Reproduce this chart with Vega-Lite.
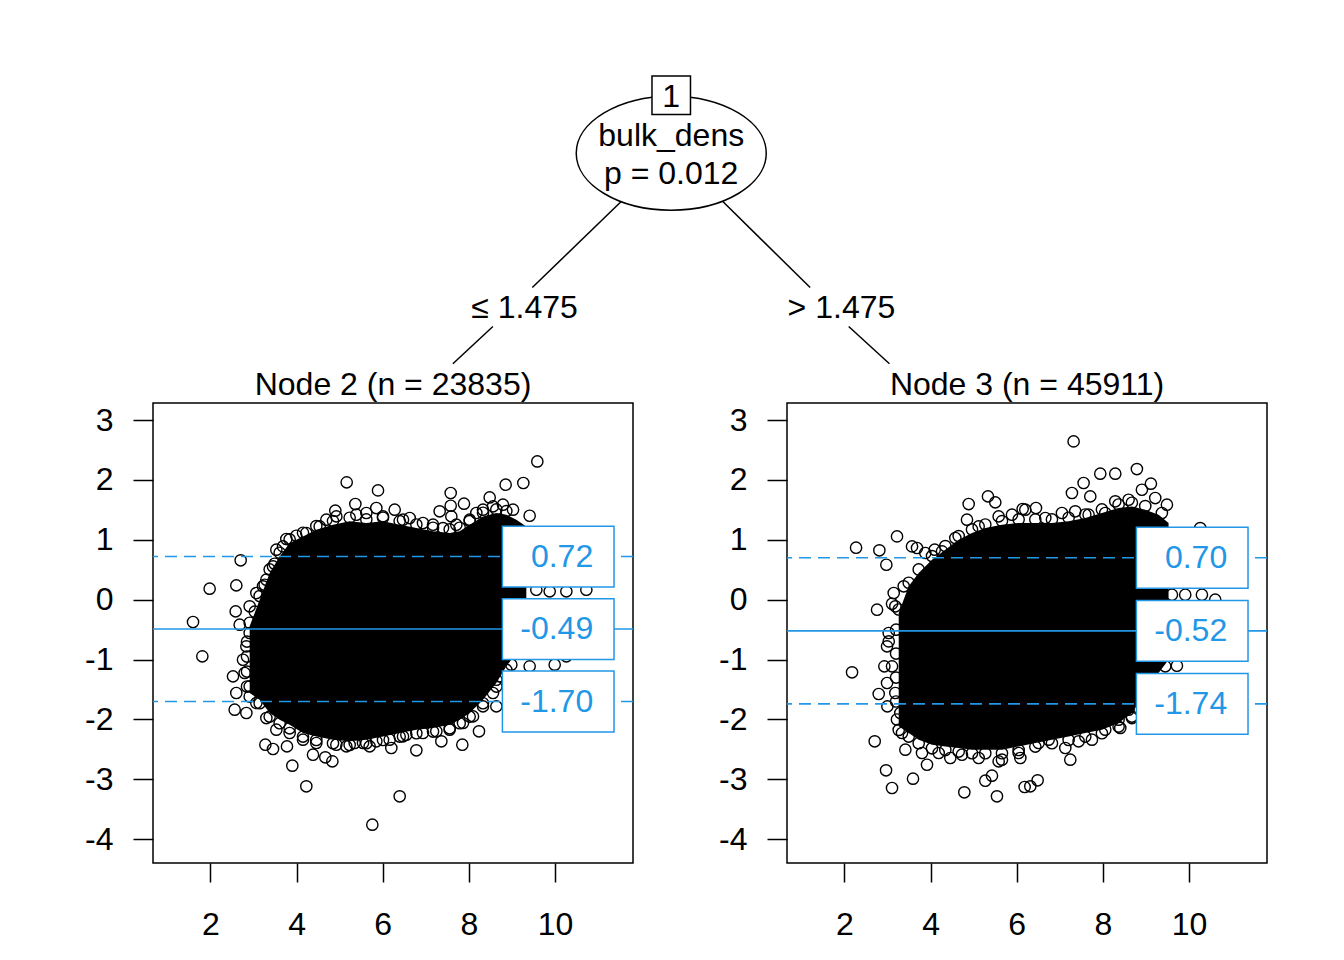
{
  "$schema": "https://vega.github.io/schema/vega-lite/v6.json",
  "description": "Model-based tree: bulk_dens split with Bland-Altman style panels",
  "padding": {"left": 83, "top": 0, "right": 0, "bottom": 0},
  "config": {
    "font": "Liberation Sans",
    "view": {"stroke": "black", "strokeWidth": 1.5},
    "axis": {
      "domain": false, "grid": false, "title": null,
      "tickColor": "black", "tickWidth": 1.5,
      "labelColor": "black", "labelFontSize": 32, "labelFont": "Liberation Sans",
      "labelFlush": false, "labelOverlap": false,
      "labelExpr": "'' + datum.value"
    },
    "axisX": {"tickSize": 19, "labelPadding": 27},
    "axisY": {"tickSize": 20, "labelPadding": 20}
  },
  "datasets": {
    "n2_area": [
      {"x": 2.912, "hi": -0.445, "lo": -1.558},
      {"x": 3.144, "hi": 0.0, "lo": -1.669},
      {"x": 3.376, "hi": 0.445, "lo": -1.892},
      {"x": 3.608, "hi": 0.723, "lo": -2.003},
      {"x": 3.840, "hi": 0.946, "lo": -2.087},
      {"x": 4.150, "hi": 1.057, "lo": -2.226},
      {"x": 4.459, "hi": 1.169, "lo": -2.282},
      {"x": 4.846, "hi": 1.252, "lo": -2.337},
      {"x": 5.233, "hi": 1.308, "lo": -2.365},
      {"x": 5.620, "hi": 1.280, "lo": -2.337},
      {"x": 6.007, "hi": 1.308, "lo": -2.282},
      {"x": 6.394, "hi": 1.252, "lo": -2.226},
      {"x": 6.781, "hi": 1.196, "lo": -2.170},
      {"x": 7.168, "hi": 1.141, "lo": -2.142},
      {"x": 7.555, "hi": 1.113, "lo": -2.087},
      {"x": 7.787, "hi": 1.141, "lo": -2.003},
      {"x": 8.019, "hi": 1.252, "lo": -1.892},
      {"x": 8.328, "hi": 1.391, "lo": -1.669},
      {"x": 8.638, "hi": 1.447, "lo": -1.391},
      {"x": 8.870, "hi": 1.419, "lo": -1.113},
      {"x": 9.102, "hi": 1.336, "lo": -0.890},
      {"x": 9.334, "hi": 1.224, "lo": -0.556}
    ],
    "n2_pts": [
      {"x": 9.589, "y": 2.309}, {"x": 8.854, "y": 1.920}, {"x": 9.264, "y": 1.948},
      {"x": 5.164, "y": 1.959}, {"x": 5.891, "y": 1.825}, {"x": 7.578, "y": 1.781},
      {"x": 7.887, "y": 1.603}, {"x": 8.483, "y": 1.708}, {"x": 7.578, "y": 1.569},
      {"x": 5.365, "y": 1.597}, {"x": 4.900, "y": 1.486}, {"x": 5.852, "y": 1.530},
      {"x": 6.278, "y": 1.503}, {"x": 7.322, "y": 1.475}, {"x": 7.593, "y": 1.391},
      {"x": 9.411, "y": 1.402}, {"x": 3.995, "y": 1.068}, {"x": 3.763, "y": 1.013},
      {"x": 2.703, "y": 0.657}, {"x": 1.983, "y": 0.184}, {"x": 2.602, "y": 0.239},
      {"x": 1.597, "y": -0.373}, {"x": 2.587, "y": -0.195}, {"x": 1.813, "y": -0.946},
      {"x": 2.680, "y": -0.417}, {"x": 2.912, "y": -0.111}, {"x": 2.525, "y": -1.280},
      {"x": 2.602, "y": -1.558}, {"x": 2.564, "y": -1.836}, {"x": 2.835, "y": -1.892},
      {"x": 3.299, "y": -1.976}, {"x": 3.276, "y": -2.421}, {"x": 3.454, "y": -2.493},
      {"x": 3.902, "y": -2.771}, {"x": 4.227, "y": -3.116}, {"x": 4.831, "y": -2.699},
      {"x": 4.382, "y": -2.588}, {"x": 4.668, "y": -2.632}, {"x": 5.759, "y": -3.756},
      {"x": 6.394, "y": -3.283}, {"x": 6.200, "y": -2.476}, {"x": 6.781, "y": -2.515},
      {"x": 7.361, "y": -2.365}, {"x": 7.848, "y": -2.421}, {"x": 8.235, "y": -2.198},
      {"x": 8.638, "y": -1.781}, {"x": 8.638, "y": -1.336}, {"x": 8.986, "y": -1.085},
      {"x": 9.411, "y": -1.113}, {"x": 9.992, "y": -1.085}, {"x": 10.263, "y": -0.946},
      {"x": 10.727, "y": 0.167}, {"x": 10.263, "y": 0.139}, {"x": 9.876, "y": 0.139},
      {"x": 9.566, "y": 0.167}, {"x": 5.697, "y": -2.449}, {"x": 5.156, "y": -2.449},
      {"x": 5.349, "y": -2.393}, {"x": 3.778, "y": -2.449}, {"x": 6.549, "y": -2.254},
      {"x": 3.531, "y": 0.835}, {"x": 3.686, "y": 0.890}, {"x": 4.227, "y": 1.113},
      {"x": 4.537, "y": 1.224}, {"x": 4.692, "y": 1.336}, {"x": 4.924, "y": 1.391},
      {"x": 5.388, "y": 1.419}, {"x": 5.620, "y": 1.447}, {"x": 6.007, "y": 1.391},
      {"x": 6.471, "y": 1.336}, {"x": 6.626, "y": 1.363}, {"x": 6.935, "y": 1.280},
      {"x": 7.168, "y": 1.252}, {"x": 7.400, "y": 1.196}, {"x": 7.709, "y": 1.252},
      {"x": 8.019, "y": 1.336}, {"x": 8.173, "y": 1.447}, {"x": 8.328, "y": 1.503},
      {"x": 8.560, "y": 1.558}, {"x": 8.792, "y": 1.586}, {"x": 9.025, "y": 1.503},
      {"x": 3.067, "y": -1.725}, {"x": 3.531, "y": -2.170}, {"x": 3.840, "y": -2.226},
      {"x": 4.150, "y": -2.337}, {"x": 4.459, "y": -2.393}, {"x": 4.924, "y": -2.421},
      {"x": 5.543, "y": -2.393}, {"x": 5.852, "y": -2.365}, {"x": 6.162, "y": -2.337},
      {"x": 6.471, "y": -2.282}, {"x": 6.935, "y": -2.226}, {"x": 7.245, "y": -2.198},
      {"x": 7.554, "y": -2.170}, {"x": 7.864, "y": -2.059}, {"x": 8.096, "y": -1.948},
      {"x": 8.328, "y": -1.781}, {"x": 8.560, "y": -1.558}, {"x": 8.715, "y": -1.280},
      {"x": 2.912, "y": -0.556}, {"x": 2.835, "y": -0.779}, {"x": 2.757, "y": -1.002},
      {"x": 2.796, "y": -1.224}, {"x": 2.912, "y": -1.447}, {"x": 3.067, "y": 0.111},
      {"x": 3.221, "y": 0.223}, {"x": 3.299, "y": 0.334}, {"x": 3.454, "y": 0.556},
      {"x": 2.912, "y": -0.385}, {"x": 3.144, "y": 0.060}, {"x": 3.376, "y": 0.505},
      {"x": 3.608, "y": 0.783}, {"x": 3.840, "y": 1.006}, {"x": 4.150, "y": 1.117},
      {"x": 4.459, "y": 1.229}, {"x": 4.846, "y": 1.312}, {"x": 5.233, "y": 1.368},
      {"x": 5.620, "y": 1.340}, {"x": 6.007, "y": 1.368}, {"x": 6.394, "y": 1.312},
      {"x": 6.781, "y": 1.256}, {"x": 7.168, "y": 1.201}, {"x": 7.555, "y": 1.173},
      {"x": 7.787, "y": 1.201}, {"x": 8.019, "y": 1.312}, {"x": 8.328, "y": 1.451},
      {"x": 8.638, "y": 1.507}, {"x": 8.870, "y": 1.479},
      {"x": 2.912, "y": -1.618}, {"x": 3.144, "y": -1.729}, {"x": 3.376, "y": -1.952},
      {"x": 3.608, "y": -2.063}, {"x": 3.840, "y": -2.147}, {"x": 4.150, "y": -2.286},
      {"x": 4.459, "y": -2.342}, {"x": 4.846, "y": -2.397}, {"x": 5.233, "y": -2.425},
      {"x": 5.620, "y": -2.397}, {"x": 6.007, "y": -2.342}, {"x": 6.394, "y": -2.286},
      {"x": 6.781, "y": -2.230}, {"x": 7.168, "y": -2.202}, {"x": 7.555, "y": -2.147},
      {"x": 7.787, "y": -2.063}, {"x": 8.019, "y": -1.952}, {"x": 8.328, "y": -1.729},
      {"x": 8.638, "y": -1.451}, {"x": 8.870, "y": -1.173},
      {"x": 2.850, "y": -0.700}, {"x": 2.850, "y": -0.950}, {"x": 2.850, "y": -1.200},
      {"x": 2.850, "y": -1.450}, {"x": 3.030, "y": -0.200}, {"x": 3.260, "y": 0.250},
      {"x": 3.490, "y": 0.600}
    ],
    "n2_stats": [
      {"kind": "limit", "value": 0.72, "label": "0.72"},
      {"kind": "mean", "value": -0.49, "label": "-0.49"},
      {"kind": "limit", "value": -1.70, "label": "-1.70"}
    ],
    "n3_area": [
      {"x": 3.261, "hi": -0.223, "lo": -2.114},
      {"x": 3.493, "hi": 0.223, "lo": -2.226},
      {"x": 3.725, "hi": 0.445, "lo": -2.337},
      {"x": 4.034, "hi": 0.668, "lo": -2.421},
      {"x": 4.343, "hi": 0.835, "lo": -2.449},
      {"x": 4.653, "hi": 1.002, "lo": -2.476},
      {"x": 4.962, "hi": 1.113, "lo": -2.504},
      {"x": 5.271, "hi": 1.196, "lo": -2.504},
      {"x": 5.658, "hi": 1.252, "lo": -2.504},
      {"x": 6.045, "hi": 1.280, "lo": -2.449},
      {"x": 6.432, "hi": 1.280, "lo": -2.393},
      {"x": 6.818, "hi": 1.280, "lo": -2.337},
      {"x": 7.205, "hi": 1.308, "lo": -2.282},
      {"x": 7.592, "hi": 1.363, "lo": -2.226},
      {"x": 7.978, "hi": 1.447, "lo": -2.170},
      {"x": 8.365, "hi": 1.530, "lo": -2.059},
      {"x": 8.674, "hi": 1.558, "lo": -1.892},
      {"x": 8.984, "hi": 1.503, "lo": -1.558},
      {"x": 9.293, "hi": 1.419, "lo": -1.224},
      {"x": 9.525, "hi": 1.280, "lo": -1.002}
    ],
    "n3_pts": [
      {"x": 7.321, "y": 2.643}, {"x": 8.790, "y": 2.181}, {"x": 7.940, "y": 2.104},
      {"x": 8.288, "y": 2.104}, {"x": 7.553, "y": 1.948}, {"x": 9.115, "y": 1.937},
      {"x": 7.282, "y": 1.781}, {"x": 7.708, "y": 1.725}, {"x": 5.333, "y": 1.725},
      {"x": 4.885, "y": 1.597}, {"x": 6.447, "y": 1.530}, {"x": 6.138, "y": 1.514},
      {"x": 5.503, "y": 1.625}, {"x": 9.487, "y": 1.586}, {"x": 3.222, "y": 1.057},
      {"x": 2.271, "y": 0.868}, {"x": 2.812, "y": 0.824}, {"x": 2.974, "y": 0.584},
      {"x": 3.686, "y": 0.863}, {"x": 4.096, "y": 0.835}, {"x": 3.145, "y": 0.111},
      {"x": 2.758, "y": -0.167}, {"x": 3.106, "y": -0.067}, {"x": 3.029, "y": -0.696},
      {"x": 2.178, "y": -1.213}, {"x": 2.928, "y": -1.113}, {"x": 2.990, "y": -1.391},
      {"x": 2.797, "y": -1.575}, {"x": 2.998, "y": -1.781}, {"x": 2.704, "y": -2.365},
      {"x": 2.967, "y": -2.849}, {"x": 3.106, "y": -3.144}, {"x": 3.593, "y": -2.988},
      {"x": 3.918, "y": -2.755}, {"x": 4.784, "y": -3.216}, {"x": 5.271, "y": -3.022},
      {"x": 5.426, "y": -2.938}, {"x": 5.542, "y": -3.283}, {"x": 6.184, "y": -3.127},
      {"x": 6.316, "y": -3.116}, {"x": 6.486, "y": -3.016}, {"x": 6.084, "y": -2.643},
      {"x": 7.244, "y": -2.671}, {"x": 5.658, "y": -2.671}, {"x": 4.459, "y": -2.643},
      {"x": 9.719, "y": -1.102}, {"x": 9.448, "y": -1.113}, {"x": 9.138, "y": -1.113},
      {"x": 8.674, "y": -1.976}, {"x": 8.404, "y": -2.142}, {"x": 10.608, "y": 0.0},
      {"x": 10.299, "y": 0.083}, {"x": 9.912, "y": 0.083}, {"x": 9.603, "y": 0.083},
      {"x": 10.260, "y": 1.196},
      {"x": 3.570, "y": 0.890}, {"x": 3.879, "y": 0.779}, {"x": 4.266, "y": 0.807},
      {"x": 4.575, "y": 1.030}, {"x": 4.846, "y": 1.336}, {"x": 5.117, "y": 1.224},
      {"x": 5.581, "y": 1.391}, {"x": 5.890, "y": 1.419}, {"x": 6.200, "y": 1.503},
      {"x": 6.664, "y": 1.363}, {"x": 7.050, "y": 1.447}, {"x": 7.359, "y": 1.475},
      {"x": 7.669, "y": 1.419}, {"x": 8.056, "y": 1.447}, {"x": 8.288, "y": 1.642},
      {"x": 8.597, "y": 1.669}, {"x": 8.906, "y": 1.836}, {"x": 9.216, "y": 1.697},
      {"x": 9.370, "y": 1.447},
      {"x": 3.377, "y": 0.223}, {"x": 3.183, "y": -0.111}, {"x": 3.029, "y": -0.556},
      {"x": 2.990, "y": -0.779}, {"x": 3.106, "y": -1.113}, {"x": 3.183, "y": -1.558},
      {"x": 3.299, "y": -1.892}, {"x": 3.338, "y": -2.226},
      {"x": 3.415, "y": -2.504}, {"x": 3.802, "y": -2.560}, {"x": 4.189, "y": -2.560},
      {"x": 4.730, "y": -2.588}, {"x": 5.117, "y": -2.643}, {"x": 5.581, "y": -2.699},
      {"x": 6.045, "y": -2.560}, {"x": 6.509, "y": -2.393}, {"x": 6.741, "y": -2.337},
      {"x": 7.128, "y": -2.476}, {"x": 7.437, "y": -2.365}, {"x": 7.746, "y": -2.337},
      {"x": 8.056, "y": -2.170}, {"x": 8.365, "y": -2.003}, {"x": 8.597, "y": -1.836},
      {"x": 3.261, "y": -0.163}, {"x": 3.493, "y": 0.283}, {"x": 3.725, "y": 0.505},
      {"x": 4.034, "y": 0.728}, {"x": 4.343, "y": 0.895}, {"x": 4.653, "y": 1.062},
      {"x": 4.962, "y": 1.173}, {"x": 5.271, "y": 1.256}, {"x": 5.658, "y": 1.312},
      {"x": 6.045, "y": 1.340}, {"x": 6.432, "y": 1.340}, {"x": 6.818, "y": 1.340},
      {"x": 7.205, "y": 1.368}, {"x": 7.592, "y": 1.423}, {"x": 7.978, "y": 1.507},
      {"x": 8.365, "y": 1.590}, {"x": 8.674, "y": 1.618}, {"x": 8.984, "y": 1.563},
      {"x": 3.261, "y": -2.174}, {"x": 3.493, "y": -2.286}, {"x": 3.725, "y": -2.397},
      {"x": 4.034, "y": -2.481}, {"x": 4.343, "y": -2.509}, {"x": 4.653, "y": -2.536},
      {"x": 4.962, "y": -2.564}, {"x": 5.271, "y": -2.564}, {"x": 5.658, "y": -2.564},
      {"x": 6.045, "y": -2.509}, {"x": 6.432, "y": -2.453}, {"x": 6.818, "y": -2.397},
      {"x": 7.205, "y": -2.342}, {"x": 7.592, "y": -2.286}, {"x": 7.978, "y": -2.230},
      {"x": 8.365, "y": -2.119}, {"x": 8.674, "y": -1.952}, {"x": 8.984, "y": -1.618},
      {"x": 3.200, "y": -0.500}, {"x": 3.200, "y": -0.900}, {"x": 3.200, "y": -1.300},
      {"x": 3.200, "y": -1.700}, {"x": 3.220, "y": -2.000}
    ],
    "n3_stats": [
      {"kind": "limit", "value": 0.70, "label": "0.70"},
      {"kind": "mean", "value": -0.52, "label": "-0.52"},
      {"kind": "limit", "value": -1.74, "label": "-1.74"}
    ],
    "tree_edges": [
      {"x": 0.4203, "y": 0.4999, "x2": 0.3405, "y2": 0.2866},
      {"x": 0.3051, "y": 0.1899, "x2": 0.2692, "y2": 0.0974},
      {"x": 0.5115, "y": 0.4999, "x2": 0.5899, "y2": 0.2866},
      {"x": 0.6245, "y": 0.1899, "x2": 0.6611, "y2": 0.0974}
    ],
    "tree_text": [
      {"x": 0.4652, "y": 0.7354, "text": "1"},
      {"x": 0.4652, "y": 0.638, "text": "bulk_dens"},
      {"x": 0.4652, "y": 0.5438, "text": "p = 0.012"},
      {"x": 0.3335, "y": 0.2108, "text": "≤ 1.475"},
      {"x": 0.6180, "y": 0.2108, "text": "> 1.475"}
    ]
  },
  "spacing": 0,
  "bounds": "flush",
  "vconcat": [
    {
      "width": 1114,
      "height": 403,
      "view": {"stroke": null},
      "encoding": {
        "x": {"field": "x", "type": "quantitative", "scale": {"domain": [0, 1]}, "axis": null},
        "y": {"field": "y", "type": "quantitative", "scale": {"domain": [0, 1]}, "axis": null}
      },
      "layer": [
        {
          "data": {"name": "tree_edges"},
          "mark": {"type": "rule", "color": "black", "strokeWidth": 1.5},
          "encoding": {"x2": {"field": "x2"}, "y2": {"field": "y2"}}
        },
        {
          "data": {"values": [{"x": 0.4652, "y": 0.6199}]},
          "mark": {
            "type": "point",
            "shape": "M -1 0 A 1 0.6 0 1 0 1 0 A 1 0.6 0 1 0 -1 0 Z",
            "size": 36100, "filled": true, "fill": "white", "stroke": "black",
            "strokeWidth": 1.5, "opacity": 1
          }
        },
        {
          "data": {"values": [{"x": 0.4652, "y": 0.7639}]},
          "mark": {
            "type": "point", "shape": "square", "size": 1482, "filled": true,
            "fill": "white", "stroke": "black", "strokeWidth": 1.5, "opacity": 1
          }
        },
        {
          "data": {"name": "tree_text"},
          "mark": {"type": "text", "fontSize": 32, "baseline": "alphabetic", "align": "center", "color": "black"},
          "encoding": {"text": {"field": "text"}}
        }
      ]
    },
    {
      "hconcat": [
        {
          "width": 480,
          "height": 460,
          "title": {"text": "Node 2 (n = 23835)", "fontSize": 32, "fontWeight": "normal", "baseline": "bottom", "offset": 1, "dy": 32, "anchor": "middle", "color": "black"},
          "layer": [
            {
              "data": {"name": "n2_area"},
              "mark": {"type": "area", "color": "black", "opacity": 1},
              "encoding": {
                "x": {"field": "x", "type": "quantitative", "scale": {"domain": [0.668, 11.81], "nice": false, "zero": false}, "axis": {"values": [2, 4, 6, 8, 10]}},
                "y": {"field": "hi", "type": "quantitative", "scale": {"domain": [-4.396, 3.284], "nice": false, "zero": false}, "axis": {"values": [-4, -3, -2, -1, 0, 1, 2, 3]}},
                "y2": {"field": "lo"}
              }
            },
            {
              "data": {"name": "n2_pts"},
              "mark": {"type": "point", "shape": "circle", "size": 127, "color": "black", "strokeWidth": 1.4, "opacity": 1},
              "encoding": {
                "x": {"field": "x", "type": "quantitative"},
                "y": {"field": "y", "type": "quantitative"}
              }
            },
            {
              "data": {"name": "n2_stats"},
              "mark": {"type": "rule", "color": "#2297E6", "strokeWidth": 1.6},
              "encoding": {
                "y": {"field": "value", "type": "quantitative"},
                "strokeDash": {"field": "kind", "type": "nominal", "scale": {"domain": ["mean", "limit"], "range": [[1, 0], [12, 7]]}, "legend": null}
              }
            },
            {
              "data": {"name": "n2_stats"},
              "mark": {
                "type": "point", "shape": "M -1 -0.545 L 1 -0.545 L 1 0.545 L -1 0.545 Z",
                "size": 12455, "filled": true, "fill": "white", "stroke": "#2297E6", "strokeWidth": 1.5, "opacity": 1
              },
              "encoding": {
                "x": {"datum": 10.074, "type": "quantitative"},
                "y": {"field": "value", "type": "quantitative"}
              }
            },
            {
              "data": {"name": "n2_stats"},
              "mark": {"type": "text", "align": "right", "baseline": "middle", "fontSize": 32, "color": "#2297E6"},
              "encoding": {
                "x": {"datum": 10.886, "type": "quantitative"},
                "y": {"field": "value", "type": "quantitative"},
                "text": {"field": "label"}
              }
            }
          ]
        },
        {
          "width": 480,
          "height": 460,
          "title": {"text": "Node 3 (n = 45911)", "fontSize": 32, "fontWeight": "normal", "baseline": "bottom", "offset": 1, "dy": 32, "anchor": "middle", "color": "black"},
          "layer": [
            {
              "data": {"name": "n3_area"},
              "mark": {"type": "area", "color": "black", "opacity": 1},
              "encoding": {
                "x": {"field": "x", "type": "quantitative", "scale": {"domain": [0.668, 11.81], "nice": false, "zero": false}, "axis": {"values": [2, 4, 6, 8, 10]}},
                "y": {"field": "hi", "type": "quantitative", "scale": {"domain": [-4.396, 3.284], "nice": false, "zero": false}, "axis": {"values": [-4, -3, -2, -1, 0, 1, 2, 3]}},
                "y2": {"field": "lo"}
              }
            },
            {
              "data": {"name": "n3_pts"},
              "mark": {"type": "point", "shape": "circle", "size": 127, "color": "black", "strokeWidth": 1.4, "opacity": 1},
              "encoding": {
                "x": {"field": "x", "type": "quantitative"},
                "y": {"field": "y", "type": "quantitative"}
              }
            },
            {
              "data": {"name": "n3_stats"},
              "mark": {"type": "rule", "color": "#2297E6", "strokeWidth": 1.6},
              "encoding": {
                "y": {"field": "value", "type": "quantitative"},
                "strokeDash": {"field": "kind", "type": "nominal", "scale": {"domain": ["mean", "limit"], "range": [[1, 0], [12, 7]]}, "legend": null}
              }
            },
            {
              "data": {"name": "n3_stats"},
              "mark": {
                "type": "point", "shape": "M -1 -0.545 L 1 -0.545 L 1 0.545 L -1 0.545 Z",
                "size": 12455, "filled": true, "fill": "white", "stroke": "#2297E6", "strokeWidth": 1.5, "opacity": 1
              },
              "encoding": {
                "x": {"datum": 10.074, "type": "quantitative"},
                "y": {"field": "value", "type": "quantitative"}
              }
            },
            {
              "data": {"name": "n3_stats"},
              "mark": {"type": "text", "align": "right", "baseline": "middle", "fontSize": 32, "color": "#2297E6"},
              "encoding": {
                "x": {"datum": 10.886, "type": "quantitative"},
                "y": {"field": "value", "type": "quantitative"},
                "text": {"field": "label"}
              }
            }
          ]
        }
      ],
      "spacing": 154,
      "bounds": "flush"
    }
  ]
}
